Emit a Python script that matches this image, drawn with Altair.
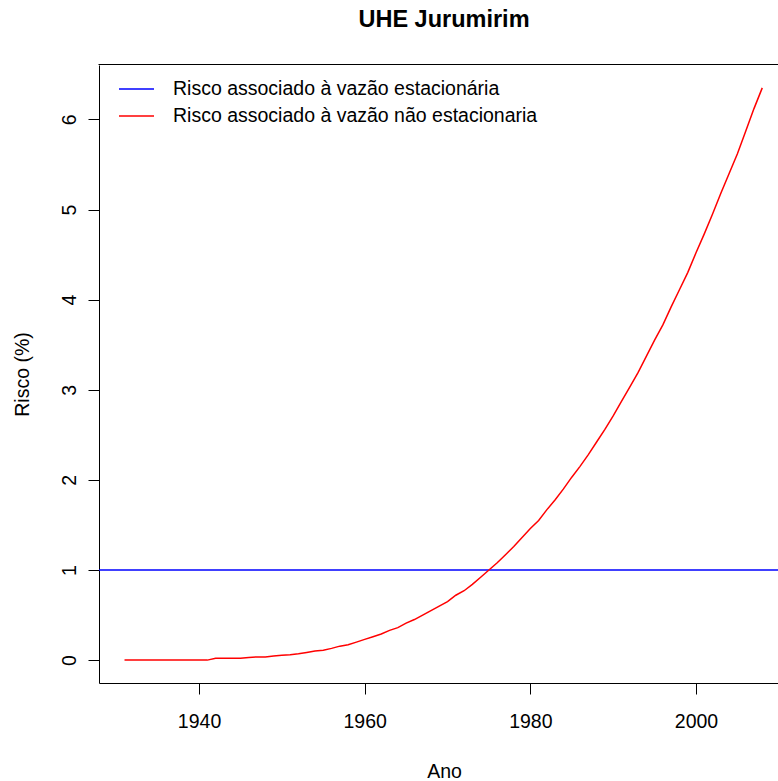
import altair as alt
import pandas as pd

# ---- data ----
anos = list(range(1931, 2009))
risco_nao_estacionario = [
    0.0, 0.0, 0.0, 0.0, 0.0, 0.0, 0.0, 0.0, 0.0, 0.0, 0.0,          # 1931-1941
    0.02, 0.02, 0.02, 0.02, 0.03, 0.035, 0.035, 0.045, 0.055, 0.06,  # 1942-1951
    0.07, 0.085, 0.10, 0.11, 0.13, 0.155, 0.17, 0.20, 0.23, 0.26,    # 1952-1961
    0.29, 0.33, 0.36, 0.41, 0.45, 0.50, 0.55, 0.60, 0.65, 0.72,      # 1962-1971
    0.77, 0.84, 0.92, 1.00, 1.08, 1.17, 1.26, 1.36, 1.46, 1.55,      # 1972-1981
    1.67, 1.78, 1.90, 2.03, 2.15, 2.28, 2.42, 2.56, 2.71, 2.87,      # 1982-1991
    3.03, 3.19, 3.37, 3.55, 3.72, 3.92, 4.11, 4.30, 4.52, 4.73,      # 1992-2001
    4.95, 5.18, 5.40, 5.62, 5.87, 6.12, 6.35,                        # 2002-2008
]
risco_estacionario = [1.0]
series = ["Risco associado à vazão estacionária",
          "Risco associado à vazão não estacionaria"]
cores = ["#0000FF", "#FF0000"]
x_ticks = [1940, 1960, 1980, 2000]
y_ticks = [0, 1, 2, 3, 4, 5, 6]

FONT = "Liberation Sans"
W, H = 679, 618

df_line = pd.DataFrame({"Ano": anos, "Risco": risco_nao_estacionario, "serie": series[1]})
df_rule = pd.DataFrame({"Risco": risco_estacionario, "serie": series[0]})

color = alt.Color(
    "serie:N",
    scale=alt.Scale(domain=series, range=cores),
    legend=alt.Legend(
        title=None, orient="none", legendX=26.5, legendY=13,
        symbolType="M-1.75,0H1.75", symbolSize=400, symbolStrokeWidth=1.5,
        labelFont=FONT, labelFontSize=19.5, labelColor="black",
        labelOffset=25.5, rowPadding=6, padding=0, labelLimit=0,
    ),
)

x_enc = alt.X(
    "Ano:Q",
    scale=alt.Scale(domain=[1927.92, 2009.9], nice=False, zero=False),
    axis=alt.Axis(values=x_ticks, format="d", title="Ano", tickSize=11,
                  labelPadding=18, titleX=345, titleY=94,
                  titleBaseline="alphabetic", titleAlign="center"),
)
y_axis = alt.Axis(values=y_ticks, title="Risco (%)", tickSize=11,
                  labelAngle=270, labelAlign="center", labelBaseline="alphabetic",
                  labelPadding=13, titleAngle=270, titleBaseline="alphabetic",
                  titleAlign="center", titleX=-71, titleY=309)
y_scale = alt.Scale(domain=[-0.254, 6.604], nice=False, zero=False)

line = alt.Chart(df_line).mark_line(strokeWidth=1.5).encode(
    x=x_enc,
    y=alt.Y("Risco:Q", scale=y_scale, axis=y_axis),
    color=color,
)
rule = alt.Chart(df_rule).mark_rule(strokeWidth=1.5).encode(
    y=alt.Y("Risco:Q", scale=y_scale, axis=y_axis),
    color=color,
)
top_border = alt.Chart(df_rule).mark_rule(color="black", strokeWidth=1).encode(
    x=alt.value(-0.5), x2=alt.value(W), y=alt.value(-0.5)
)

chart = alt.layer(rule, line, top_border).properties(
    width=W, height=H,
    autosize=alt.AutoSizeParams(type="none"),
    padding={"left": 99, "top": 65, "right": 0, "bottom": 98},
    background="white",
    title=alt.TitleParams("UHE Jurumirim", font=FONT, fontSize=23.5, fontWeight="bold",
                          color="black", anchor="middle", frame="group", dx=5.5,
                          baseline="alphabetic", offset=14),
).configure_view(stroke=None).configure_axis(
    grid=False, domainColor="black", tickColor="black", labelColor="black",
    titleColor="black", labelFont=FONT, titleFont=FONT, labelFontSize=19.5,
    titleFontSize=19.5, titleFontWeight="normal", domainWidth=1, tickWidth=1,
)

chart.save("out.html", embed_options={"renderer": "svg", "actions": False})
